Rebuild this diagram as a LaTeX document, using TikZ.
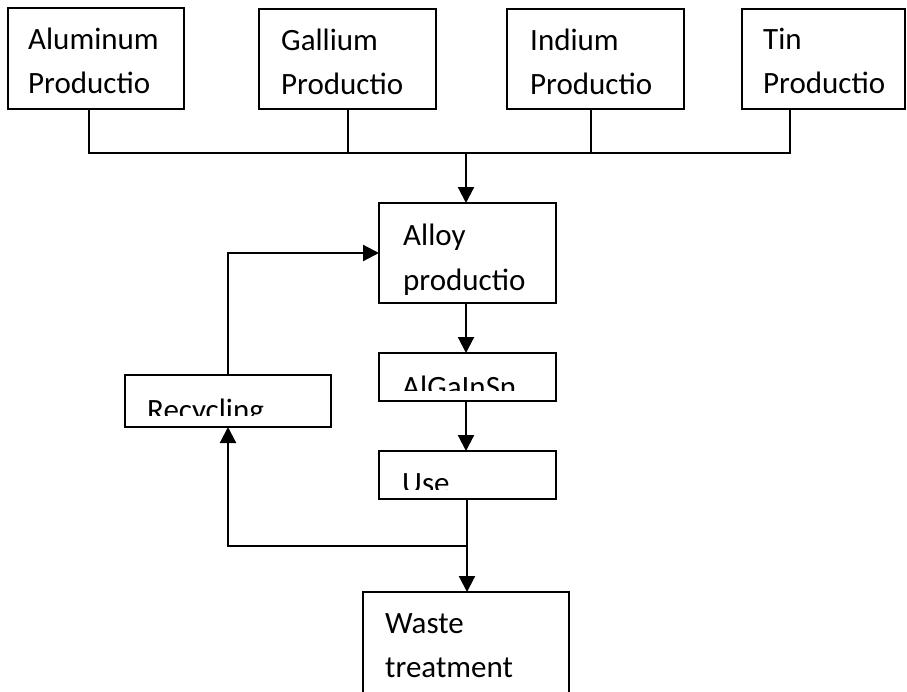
\documentclass[tikz,border=0pt]{standalone}
\usepackage{fontspec}
\setmainfont{Carlito}
\usetikzlibrary{arrows.meta,calc}
\begin{document}
\begin{tikzpicture}[x=1pt,y=-1pt,
  box/.style={draw, line width=1.6pt, inner sep=0pt, outer sep=0pt, anchor=north west},
  lbl/.style={inner sep=0pt, anchor=base west, font=\fontsize{31}{44}\selectfont},
  bus/.style={line width=1.7pt},
  arr/.style={line width=2.2pt, -{Triangle[width=16pt,length=16pt]}}]
\useasboundingbox (0,0) rectangle (907,691);
\clip (0,0) rectangle (907,691);
% top boxes
\node[box, minimum width=176pt, minimum height=101pt] (al) at (8,8) {};
\node[box, minimum width=177pt, minimum height=100pt] (ga) at (259,9) {};
\node[box, minimum width=177pt, minimum height=100pt] (in) at (507,9) {};
\node[box, minimum width=163pt, minimum height=100pt] (tin) at (742,9) {};
\node[lbl] (al1) at (28,49) {Aluminum};
\node[lbl] (al2) at (28,93) {Productio};
\node[lbl] (ga1) at (281,50) {Gallium};
\node[lbl] (ga2) at (281,94) {Productio};
\node[lbl] (in1) at (530,50) {Indium};
\node[lbl] (in2) at (530,94) {Productio};
\node[lbl] (tin1) at (763,49) {Tin};
\node[lbl] (tin2) at (763,93) {Productio};
% middle boxes
\node[box, minimum width=177pt, minimum height=100pt] (alloy) at (379,203) {};
\node[lbl] (alloy1) at (403,245) {Alloy};
\node[lbl] (alloy2) at (403,290) {productio};
\node[box, minimum width=206pt, minimum height=52pt] (rec) at (125,375) {};
\node[box, minimum width=177pt, minimum height=48pt] (alg) at (379,353) {};
\node[box, minimum width=177pt, minimum height=48pt] (use) at (379,451) {};
\node[box, minimum width=206pt, minimum height=130pt] (waste) at (363,592) {};
\node[lbl] (waste1) at (385,633) {Waste};
\node[lbl] (waste2) at (385,677) {treatment};
% clipped labels
\begin{scope}
  \clip (rec.north west) rectangle ($(rec.south east)+(0,-12)$);
  \node[lbl] (rec1) at (147,420) {Recycling};
\end{scope}
\begin{scope}
  \clip (alg.north west) rectangle ($(alg.south east)+(0,-11)$);
  \node[lbl] (alg1) at (402,397) {AlGaInSn};
\end{scope}
\begin{scope}
  \clip (use.north west) rectangle ($(use.south east)+(0,-10)$);
  \node[lbl] (use1) at (402,493) {Use};
\end{scope}
% bus
\coordinate (b1) at (89,153);
\coordinate (b4) at (790,153);
\coordinate (bm) at (466,153);
\draw[bus] (al.south -| b1) -- (b1) -- (b4) -- (tin.south -| b4);
\draw[bus] (348,109) -- (348,153);
\draw[bus] (591,109) -- (591,153);
\draw[arr] (bm) -- (bm |- alloy.north);
% main chain
\draw[arr] (alloy.south -| bm) -- (alg.north -| bm);
\draw[arr] (alg.south -| bm) -- (use.north -| bm);
\coordinate (br) at (467,546);
\draw[arr] (use.south -| br) -- (waste.north -| br);
\draw[arr] (br) -| (rec.south);
\draw[arr] (rec.north) |- (alloy.west);
\end{tikzpicture}
\end{document}
